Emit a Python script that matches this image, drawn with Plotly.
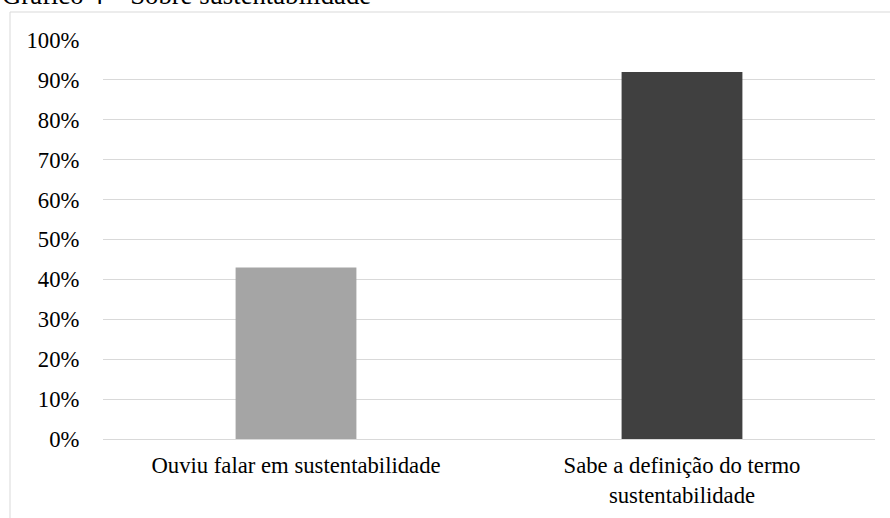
import plotly.graph_objects as go

categories = ["Ouviu falar em sustentabilidade", "Sabe a definição do termo<br>sustentabilidade"]
values = [0.43, 0.92]
bar_colors = ["#A5A5A5", "#404040"]
tick_vals = [i / 10 for i in range(11)]
tick_text = [f"{i*10}%" for i in range(11)]
title_text = "Gráfico 4 – Sobre sustentabilidade"

W, H = 890, 518
L, R, T, B = 103, 15, 40, 79
pw, ph = W - L - R, H - T - B

FAM = "Liberation Serif, Times New Roman, serif"
font = dict(family=FAM, size=22.7, color="#000000")

fig = go.Figure(go.Bar(x=categories, y=values, marker=dict(color=bar_colors, line=dict(width=0)),
                       width=0.313))

fig.update_layout(
    width=W, height=H, margin=dict(l=L, r=R, t=T, b=B, autoexpand=False),
    paper_bgcolor="white", plot_bgcolor="white",
    font=font, showlegend=False,
)
fig.update_yaxes(range=[0, 1.0], tickvals=tick_vals, ticktext=tick_text,
                 showgrid=True, gridcolor="#D9D9D9", gridwidth=1, zeroline=False,
                 showline=False, ticks="outside", ticklen=18, tickcolor="rgba(0,0,0,0)",
                 tickfont=font, automargin=False)
fig.update_xaxes(showgrid=False, showline=True, linecolor="#D9D9D9", linewidth=1,
                 ticks="outside", ticklen=6, tickcolor="rgba(0,0,0,0)", tickfont=font,
                 automargin=False)

# outer border (top-left corner visible, right/bottom edges run off the page)
fig.add_shape(type="rect", xref="paper", yref="paper",
              x0=(10 - L) / pw, x1=(W + 5 - L) / pw,
              y0=-(B + 5) / ph, y1=1 + (T - 12) / ph,
              line=dict(color="#D9D9D9", width=1), fillcolor="rgba(0,0,0,0)", layer="below")

fig.add_annotation(text=title_text, xref="paper", yref="paper",
                   x=(0 - L) / pw, xanchor="left",
                   y=1 + (T - 12) / ph, yanchor="bottom",
                   showarrow=False, font=dict(family=FAM, size=26.7, color="#000000"))

fig.write_html("out.html")
